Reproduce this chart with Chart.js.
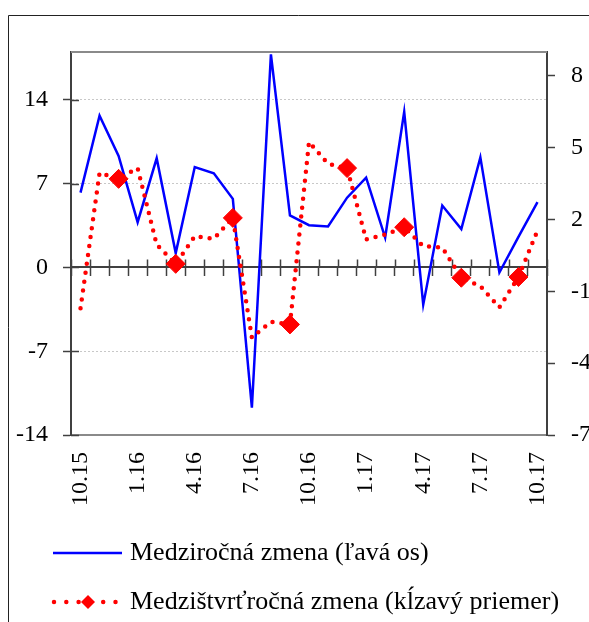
<!DOCTYPE html>
<html>
<head>
<meta charset="utf-8">
<script src="https://cdn.jsdelivr.net/npm/chart.js@4/dist/chart.umd.min.js"></script>
<style>
  html, body { margin: 0; padding: 0; background: #fff; overflow: hidden; }
  #wrap { width: 589px; height: 622px; overflow: hidden; }
</style>
</head>
<body>
<div id="wrap"><canvas id="chart" width="589" height="640"></canvas></div>
<script>
// months 10.15 .. 10.17
const months = [
  "10.15", "11.15", "12.15", "1.16", "2.16", "3.16", "4.16", "5.16", "6.16",
  "7.16", "8.16", "9.16", "10.16", "11.16", "12.16", "1.17", "2.17", "3.17",
  "4.17", "5.17", "6.17", "7.17", "8.17", "9.17", "10.17"
];

// Medziročná zmena (left axis)
const yoyValues = [
  6.25, 12.67, 9.31, 3.78, 9.12, 1.2, 8.39, 7.87, 5.73, -11.72, 17.8, 4.35,
  3.53, 3.42, 5.83, 7.5, 2.5, 13.0, -3.11, 5.17, 3.2, 9.2, -0.42, 2.56, 5.45
];

// Medzištvrťročná zmena, kĺzavý priemer (right axis)
const qoqValues = [
  -1.71, 3.95, 3.7, 4.15, 0.95, 0.15, 1.3, 1.2, 2.07, -2.93, -2.27, -2.38,
  5.24, 4.33, 4.15, 1.17, 1.37, 1.68, 0.89, 0.83, -0.43, -0.78, -1.67, -0.4, 1.54
];

const leftTicks = [-14, -7, 0, 7, 14];
const rightTicks = [-7, -4, -1, 2, 5, 8];

const seriesNames = [
  "Medziročná zmena (ľavá os)",
  "Medzištvrťročná zmena (kĺzavý priemer)"
];

const AXIS = "#404040";
const FRAME = "#8a8a8a";

Chart.defaults.font.family = "'Liberation Serif', 'Times New Roman', serif";
Chart.defaults.font.size = 24;
Chart.defaults.color = "#000";

// legend symbols (image is centred in the legend box, left part left empty)
const SYM_W = 104;
const SYM_X0 = 35;

const legendLine = () => {
  const c = document.createElement("canvas");
  c.width = SYM_W; c.height = 10;
  const g = c.getContext("2d");
  g.strokeStyle = "#0000ff";
  g.lineWidth = 2.5;
  g.beginPath();
  g.moveTo(SYM_X0, 5);
  g.lineTo(SYM_W, 5);
  g.stroke();
  return c;
};

const legendDots = () => {
  const c = document.createElement("canvas");
  c.width = SYM_W; c.height = 18;
  const g = c.getContext("2d");
  g.strokeStyle = "red";
  g.fillStyle = "red";
  g.lineWidth = 4.5;
  g.lineCap = "round";
  g.setLineDash([0, 12.3]);
  g.beginPath();
  g.moveTo(SYM_X0 + 1, 9);
  g.lineTo(SYM_W, 9);
  g.stroke();
  g.setLineDash([]);
  const cx = SYM_X0 + 35;
  g.beginPath();
  g.moveTo(cx, 2);
  g.lineTo(cx + 7, 9);
  g.lineTo(cx, 16);
  g.lineTo(cx - 7, 9);
  g.closePath();
  g.fill();
  return c;
};

const legendImages = [legendLine(), legendDots()];

// plot frame, crossing tick marks, outer border
const decorations = {
  id: "decorations",
  beforeDatasetsDraw(chart) {
    const { ctx, chartArea: a, scales } = chart;
    ctx.save();
    ctx.strokeStyle = FRAME;
    ctx.lineWidth = 2;
    ctx.beginPath();
    ctx.moveTo(a.left, a.top);
    ctx.lineTo(a.right, a.top);
    ctx.stroke();

    ctx.strokeStyle = AXIS;
    ctx.lineWidth = 1.5;
    ctx.beginPath();
    scales.y.ticks.forEach((t) => {
      const py = Math.round(scales.y.getPixelForValue(t.value)) + 0.5;
      ctx.moveTo(a.left, py);
      ctx.lineTo(a.left + 8, py);
    });
    const y0 = scales.y.getPixelForValue(0);
    for (let i = 0; i <= months.length; i++) {
      const px = Math.round(scales.x.getPixelForValue(i - 0.5)) + 0.5;
      ctx.moveTo(px, y0);
      ctx.lineTo(px, y0 - 8);
    }
    ctx.stroke();

    ctx.strokeStyle = "#222";
    ctx.lineWidth = 1;
    ctx.beginPath();
    ctx.moveTo(8.5, chart.height);
    ctx.lineTo(8.5, 15.5);
    ctx.lineTo(chart.width, 15.5);
    ctx.stroke();
    ctx.restore();
  },
};

new Chart(document.getElementById("chart"), {
  type: "line",
  data: {
    labels: months,
    datasets: [
      {
        label: seriesNames[0],
        data: yoyValues,
        yAxisID: "y",
        xAxisID: "x",
        borderColor: "#0000ff",
        borderWidth: 2.5,
        pointRadius: 0,
        tension: 0,
        order: 1,
      },
      {
        label: seriesNames[1],
        data: qoqValues,
        yAxisID: "y2",
        xAxisID: "x",
        borderColor: "red",
        borderWidth: 4.5,
        borderDash: [0, 9],
        borderCapStyle: "round",
        pointStyle: "rectRot",
        pointRadius: (c) => (c.dataIndex % 3 === 2 ? 9.5 : 0),
        pointBackgroundColor: "red",
        pointBorderColor: "red",
        pointBorderWidth: 1,
        tension: 0,
        order: 0,
      },
    ],
  },
  options: {
    responsive: false,
    animation: false,
    devicePixelRatio: 1,
    layout: { padding: { left: 0, right: 0, top: 52, bottom: 15 } },
    plugins: {
      tooltip: { enabled: false },
      legend: {
        position: "bottom",
        align: "start",
        labels: {
          usePointStyle: true,
          pointStyleWidth: 94,
          padding: 23,
          color: "#000",
          font: { size: 26 },
          generateLabels: (chart) =>
            chart.data.datasets.map((ds, i) => ({
              text: ds.label,
              pointStyle: legendImages[i],
              fillStyle: "transparent",
              strokeStyle: "transparent",
              lineWidth: 0,
              datasetIndex: i,
              hidden: false,
            })),
        },
      },
    },
    scales: {
      x: {
        type: "category",
        offset: true,
        position: { y: 0 },
        ticks: { display: false },
        grid: {
          drawOnChartArea: false,
          offset: true,
          tickLength: 8,
          tickColor: AXIS,
          tickWidth: 1.5,
        },
        border: { color: AXIS, width: 2 },
      },
      xl: {
        type: "category",
        offset: true,
        position: "bottom",
        grid: { display: false },
        border: { color: FRAME, width: 2 },
        ticks: {
          autoSkip: false,
          minRotation: 90,
          maxRotation: 90,
          padding: 9,
          font: { size: 24 },
          callback: (v, i) => (i % 3 === 0 ? months[i] : ""),
        },
        afterFit: (s) => { s.height = 82; },
      },
      y: {
        position: "left",
        min: -14,
        max: 18,
        afterBuildTicks: (s) => { s.ticks = leftTicks.map((v) => ({ value: v })); },
        ticks: { padding: 15, font: { size: 24 } },
        grid: {
          color: (c) => (c.tick && (c.tick.value === 0 || c.tick.value === -14) ? "rgba(0,0,0,0)" : "#c8c8c8"),
          tickColor: AXIS,
          tickWidth: 1.5,
          tickLength: 8,
        },
        border: { color: AXIS, width: 2, dash: [2, 2] },
        afterFit: (s) => { s.width = 71; },
      },
      y2: {
        position: "right",
        min: -7,
        max: 9,
        afterBuildTicks: (s) => { s.ticks = rightTicks.map((v) => ({ value: v })); },
        ticks: { padding: 16, font: { size: 24 } },
        grid: {
          drawOnChartArea: false,
          tickColor: AXIS,
          tickWidth: 1.5,
          tickLength: 8,
        },
        border: { color: AXIS, width: 2 },
        afterFit: (s) => { s.width = 42; },
      },
    },
  },
  plugins: [decorations],
});
</script>
</body>
</html>
